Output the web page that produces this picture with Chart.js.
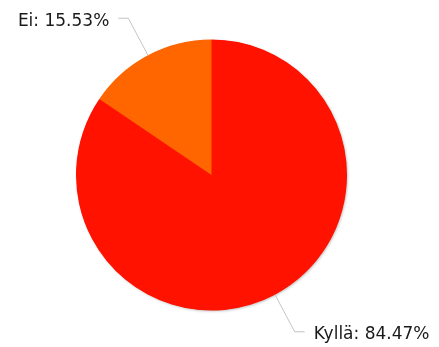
<!DOCTYPE html>
<html>
<head>
<meta charset="utf-8">
<script src="https://cdn.jsdelivr.net/npm/chart.js@4"></script>
<style>
  html, body { margin: 0; padding: 0; background: #fff; }
  #wrap { width: 439px; height: 347px; }
</style>
</head>
<body>
<div id="wrap"><canvas id="answers"></canvas></div>
<script>
// Answer shares, in percent
const answers = ["Kyllä", "Ei"];
const shares = [84.47, 15.53];
const sliceColors = ["#FF1300", "#FF6600"];

// Draws "label: value%" outside each slice with a bent leader line
const sliceLabels = {
  id: "sliceLabels",
  afterDatasetsDraw(chart) {
    const ctx = chart.ctx;
    const meta = chart.getDatasetMeta(0);
    ctx.save();
    ctx.font = "17px 'DejaVu Sans', Verdana, sans-serif";
    ctx.textBaseline = "middle";
    meta.data.forEach((arc, i) => {
      const { x, y, startAngle, endAngle, outerRadius } = arc.getProps(
        ["x", "y", "startAngle", "endAngle", "outerRadius"], true);
      const mid = (startAngle + endAngle) / 2;
      const cos = Math.cos(mid), sin = Math.sin(mid);
      const x0 = x + cos * outerRadius, y0 = y + sin * outerRadius;
      const x1 = x + cos * (outerRadius + 42), y1 = y + sin * (outerRadius + 42);
      const dir = cos >= 0 ? 1 : -1;
      const x2 = x1 + dir * 10;

      ctx.strokeStyle = "#c4c4c4";
      ctx.lineWidth = 1;
      ctx.beginPath();
      ctx.moveTo(x0, y0);
      ctx.lineTo(x1, y1);
      ctx.lineTo(x2, y1);
      ctx.stroke();

      ctx.fillStyle = "#1a1a1a";
      ctx.textAlign = dir > 0 ? "left" : "right";
      ctx.fillText(answers[i] + ": " + shares[i].toFixed(2) + "%", x2 + dir * 9, y1 + 3);
    });
    ctx.restore();
  }
};

// Soft shadow along the pie rim, painted under the slices
const pieShadow = {
  id: "pieShadow",
  beforeDatasetsDraw(chart) {
    const arc = chart.getDatasetMeta(0).data[0];
    if (!arc) return;
    const ctx = chart.ctx;
    ctx.save();
    ctx.shadowColor = "rgba(0,0,0,0.3)";
    ctx.shadowBlur = 3;
    ctx.shadowOffsetX = 1;
    ctx.shadowOffsetY = 1;
    ctx.fillStyle = sliceColors[0];
    ctx.beginPath();
    ctx.arc(arc.x, arc.y, arc.outerRadius - 0.5, 0, Math.PI * 2);
    ctx.fill();
    ctx.restore();
  }
};

new Chart(document.getElementById("answers"), {
  type: "pie",
  data: {
    labels: answers,
    datasets: [{
      data: shares,
      backgroundColor: sliceColors,
      borderWidth: 0
    }]
  },
  options: {
    responsive: true,
    maintainAspectRatio: false,
    animation: false,
    layout: { padding: { top: 39.5, bottom: 36.5, left: 0, right: 16 } },
    plugins: {
      legend: { display: false },
      tooltip: { enabled: false }
    }
  },
  plugins: [pieShadow, sliceLabels]
});
</script>
</body>
</html>
